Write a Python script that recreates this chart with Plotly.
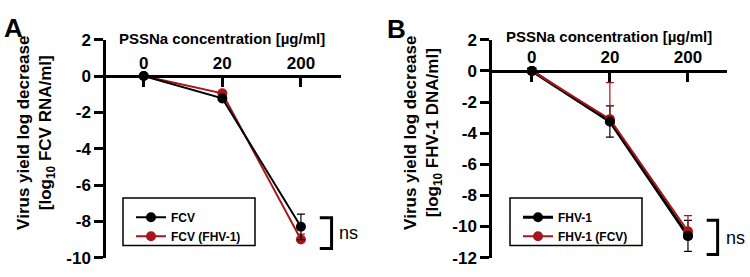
import plotly.graph_objects as go

# ---------------- data ----------------
conc_labels = ["0", "20", "200"]

# Panel A (FCV RNA)
a_fcv = [0.0, -1.23, -8.3]
a_fcv_err = [0.0, 0.0, 0.7]
a_fcv_fhv = [0.0, -0.95, -9.0]
a_fcv_fhv_err = [0.0, 0.0, 0.3]

# Panel B (FHV-1 DNA)
b_fhv = [0.0, -3.25, -10.6]
b_fhv_err = [0.0, 1.0, 1.0]
b_fhv_fcv = [0.0, -3.1, -10.3]
b_fhv_fcv_err = [0.0, 2.35, 1.0]

ya_ticks = [2, 0, -2, -4, -6, -8, -10]
yb_ticks = [2, 0, -2, -4, -6, -8, -10, -12]

names_a = ["FCV", "FCV (FHV-1)"]
names_b = ["FHV-1", "FHV-1 (FCV)"]

BLACK = "#000000"
RED = "#A8161B"
FONT = "Liberation Sans, Arial, sans-serif"

W, H = 750, 277

def px_x(p):
    return p / W

def px_y(p):
    return (H - p) / H

xpos = list(range(len(conc_labels)))

fig = go.Figure()

# ---- panel A traces (red first so black is drawn on top) ----
fig.add_trace(go.Scatter(
    x=xpos, y=a_fcv_fhv, name=names_a[1], mode="lines+markers",
    line=dict(color=RED, width=2), marker=dict(color=RED, size=10),
    error_y=dict(type="data", array=a_fcv_fhv_err, arrayminus=[0] * 3,
                 color=RED, thickness=1.2, width=4),
    xaxis="x", yaxis="y", legend="legend", legendrank=2))
fig.add_trace(go.Scatter(
    x=xpos, y=a_fcv, name=names_a[0], mode="lines+markers",
    line=dict(color=BLACK, width=2), marker=dict(color=BLACK, size=10),
    error_y=dict(type="data", array=a_fcv_err, color=BLACK, thickness=1.2, width=4),
    xaxis="x", yaxis="y", legend="legend", legendrank=1))

# ---- panel B traces ----
fig.add_trace(go.Scatter(
    x=xpos, y=b_fhv, name=names_b[0], mode="lines+markers",
    line=dict(color=BLACK, width=3), marker=dict(color=BLACK, size=10),
    error_y=dict(type="data", array=b_fhv_err, color=BLACK, thickness=1.2, width=4),
    xaxis="x2", yaxis="y2", legend="legend2", legendrank=1))
fig.add_trace(go.Scatter(
    x=xpos, y=b_fhv_fcv, name=names_b[1], mode="lines+markers",
    line=dict(color=RED, width=2), marker=dict(color=RED, size=10),
    error_y=dict(type="data", array=b_fhv_fcv_err, arrayminus=[0] * 3,
                 color=RED, thickness=1.2, width=4),
    xaxis="x2", yaxis="y2", legend="legend2", legendrank=2))
fig.add_trace(go.Scatter(
    x=xpos, y=b_fhv, mode="markers", showlegend=False,
    marker=dict(color=BLACK, size=10), xaxis="x2", yaxis="y2", hoverinfo="skip"))

# ---------------- layout ----------------
ydom = [px_y(267), px_y(33)]
ya_range = [min(ya_ticks), max(ya_ticks)]
yb_range = [min(yb_ticks), max(yb_ticks)]

def zero_pos(r):
    return ydom[0] + (0 - r[0]) / (r[1] - r[0]) * (ydom[1] - ydom[0])

axis_common = dict(showgrid=False, zeroline=False, showline=True, linecolor="black",
                   linewidth=2.5, tickcolor="black", tickwidth=2.5, ticklen=9)
tickfont = dict(family=FONT, size=17, color="black", weight="bold")

fig.update_layout(
    width=W, height=H, margin=dict(l=0, r=0, t=0, b=0),
    paper_bgcolor="white", plot_bgcolor="white",
    font=dict(family=FONT, color="black"),
    xaxis=dict(domain=[px_x(106), px_x(341)], range=[-0.48, 2.51], anchor="free",
               position=zero_pos(ya_range), side="top", ticks="inside",
               tickvals=xpos, ticktext=conc_labels, tickfont=tickfont, **axis_common),
    yaxis=dict(domain=ydom, range=ya_range, anchor="x", ticks="outside",
               tickvals=ya_ticks, ticktext=[str(v) for v in ya_ticks],
               tickfont=tickfont, **axis_common),
    xaxis2=dict(domain=[px_x(492), px_x(727)], range=[-0.51, 2.5], anchor="free",
                position=zero_pos(yb_range), side="top", ticks="inside",
                tickvals=xpos, ticktext=conc_labels, tickfont=tickfont, **axis_common),
    yaxis2=dict(domain=ydom, range=yb_range, anchor="x2", ticks="outside",
                tickvals=yb_ticks, ticktext=[str(v) for v in yb_ticks],
                tickfont=tickfont, **axis_common),
    legend=dict(x=px_x(131), y=px_y(208), xanchor="left", yanchor="top",
                bgcolor="rgba(0,0,0,0)", borderwidth=0, tracegroupgap=0,
                font=dict(family=FONT, size=12, weight="bold"), itemwidth=30),
    legend2=dict(x=px_x(518), y=px_y(208), xanchor="left", yanchor="top",
                 bgcolor="rgba(0,0,0,0)", borderwidth=0, tracegroupgap=0,
                 font=dict(family=FONT, size=12, weight="bold"), itemwidth=30),
)

shapes = [
    # legend boxes
    dict(type="rect", xref="paper", yref="paper", x0=px_x(123), x1=px_x(255),
         y0=px_y(254), y1=px_y(203), line=dict(color="black", width=1.5)),
    dict(type="rect", xref="paper", yref="paper", x0=px_x(510), x1=px_x(642),
         y0=px_y(254), y1=px_y(203), line=dict(color="black", width=1.5)),
    # ns brackets
    dict(type="path", xref="x", yref="y", path="M 2.24,-7.8 L 2.39,-7.8 L 2.39,-9.5 L 2.24,-9.5",
         line=dict(color="black", width=3)),
    dict(type="path", xref="x2", yref="y2", path="M 2.24,-9.6 L 2.38,-9.6 L 2.38,-11.8 L 2.24,-11.8",
         line=dict(color="black", width=3)),
]
fig.update_layout(shapes=shapes)

title_font = dict(family=FONT, size=15, color="black", weight="bold")
ytitle_font = dict(family=FONT, size=17, color="black", weight="bold")
annotations = [
    dict(text="A", xref="paper", yref="paper", x=px_x(2), y=px_y(2), xanchor="left",
         yanchor="top", showarrow=False, font=dict(family=FONT, size=26, weight="bold")),
    dict(text="B", xref="paper", yref="paper", x=px_x(385), y=px_y(3), xanchor="left",
         yanchor="top", showarrow=False, font=dict(family=FONT, size=26, weight="bold")),
    dict(text="PSSNa concentration [µg/ml]", xref="paper", yref="paper", x=px_x(222),
         y=px_y(32), xanchor="center", yanchor="middle", showarrow=False, font=title_font),
    dict(text="PSSNa concentration [µg/ml]", xref="paper", yref="paper", x=px_x(609),
         y=px_y(29), xanchor="center", yanchor="middle", showarrow=False, font=title_font),
    dict(text="Virus yield log decrease<br>[log<sub>10</sub> FCV RNA/ml]", xref="paper",
         yref="paper", x=px_x(36), y=px_y(133), xanchor="center", yanchor="middle",
         textangle=-90, showarrow=False, font=ytitle_font),
    dict(text="Virus yield log decrease<br>[log<sub>10</sub> FHV-1 DNA/ml]", xref="paper",
         yref="paper", x=px_x(423), y=px_y(133), xanchor="center", yanchor="middle",
         textangle=-90, showarrow=False, font=ytitle_font),
    dict(text="ns", xref="paper", yref="paper", x=px_x(348), y=px_y(241), xanchor="center",
         yanchor="middle", showarrow=False, font=dict(family=FONT, size=18)),
    dict(text="ns", xref="paper", yref="paper", x=px_x(735), y=px_y(246), xanchor="center",
         yanchor="middle", showarrow=False, font=dict(family=FONT, size=18)),
]
fig.update_layout(annotations=annotations)

fig.write_html("out.html")
